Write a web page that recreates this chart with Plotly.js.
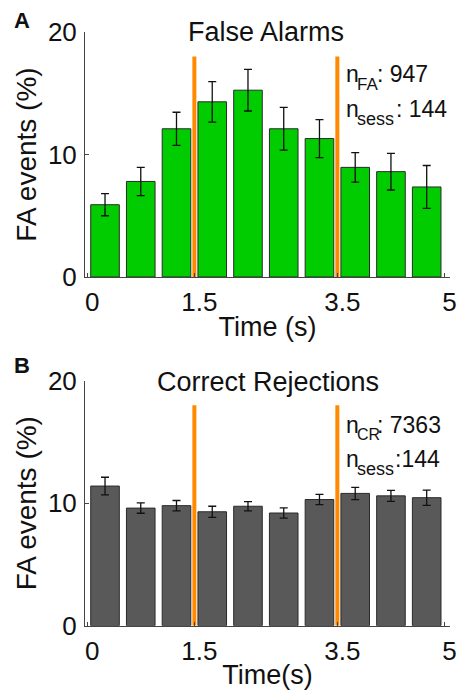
<!DOCTYPE html>
<html>
<head>
<meta charset="utf-8">
<script src="https://cdn.plot.ly/plotly-3.0.1.min.js"></script>
<style>html,body{margin:0;padding:0;background:#fff;}#chart{width:460px;height:694px;}</style>
</head>
<body>
<div id="chart"></div>
<script>
// Time bins (s), bar centres
const binCenters = [0.25, 0.75, 1.25, 1.75, 2.25, 2.75, 3.25, 3.75, 4.25, 4.75];
// Panel A: False alarms
const faMeans = [5.9, 7.8, 12.1, 14.3, 15.25, 12.1, 11.3, 8.95, 8.6, 7.35];
const faErr   = [0.9, 1.15, 1.35, 1.65, 1.7, 1.75, 1.55, 1.2, 1.5, 1.75];
// Panel B: Correct rejections
const crMeans = [11.4, 9.6, 9.8, 9.3, 9.75, 9.2, 10.3, 10.8, 10.6, 10.45];
const crErr   = [0.72, 0.42, 0.42, 0.45, 0.38, 0.42, 0.42, 0.5, 0.45, 0.62];
// Cue markers
const cueTimes = [1.5, 3.5];
const cueTop = 18;
// Ticks
const xTicks = [0, 1.5, 3.5, 5];
const xTickLabels = ['0', '1.5', '3.5', '5'];
const yTicks = [0, 10, 20];
// Texts
const titleA = 'False Alarms';
const titleB = 'Correct Rejections';
const countA = ['FA', ': 947'];
const sessA = ['sess', ': 144'];
const countB = ['CR', ': 7363'];
const sessB = ['sess', ':144'];

const FONT = 'Liberation Sans, Arial, Helvetica, sans-serif';
const ORANGE = '#FF8A00';
const TXT = '#111';

function barTrace(means, errs, color, xa, ya) {
  return {
    type: 'bar', x: binCenters, y: means, width: 0.4,
    xaxis: xa, yaxis: ya,
    marker: {color: color, line: {color: '#2a2a2a', width: 1}},
    error_y: {type: 'data', array: errs, visible: true, color: '#111', thickness: 1.3, width: 4},
    hoverinfo: 'skip', showlegend: false
  };
}
function cueTraces(xa, ya) {
  return cueTimes.map(t => ({
    type: 'scatter', mode: 'lines', x: [t, t], y: [0, cueTop],
    xaxis: xa, yaxis: ya,
    line: {color: ORANGE, width: 4}, hoverinfo: 'skip', showlegend: false
  }));
}

const data = [
  barTrace(faMeans, faErr, '#00CC00', 'x', 'y'),
  ...cueTraces('x', 'y'),
  barTrace(crMeans, crErr, '#595959', 'x2', 'y2'),
  ...cueTraces('x2', 'y2')
];

function xAxis(anchor, titleText) {
  return {
    anchor: anchor, domain: [85/460, 450/460], range: [-0.03, 5.076],
    tickvals: xTicks, ticktext: xTickLabels,
    ticks: 'inside', ticklen: 4, tickcolor: '#444', tickwidth: 1,
    showline: true, linecolor: '#444', linewidth: 1,
    showgrid: false, zeroline: false, fixedrange: true,
    tickfont: {family: FONT, size: 26, color: TXT},
    ticklabelstandoff: 2, ticklabelshift: 5,
    title: {text: titleText, font: {family: FONT, size: 27, color: TXT}, standoff: 0},
    automargin: false
  };
}
function yAxis(domain, anchor) {
  return {
    anchor: anchor, domain: domain, range: [0, 20],
    tickvals: yTicks,
    ticks: 'inside', ticklen: 4, tickcolor: '#444', tickwidth: 1,
    showline: true, linecolor: '#444', linewidth: 1,
    showgrid: false, zeroline: false, fixedrange: true,
    tickfont: {family: FONT, size: 26, color: TXT},
    ticklabelstandoff: 2,
    title: {text: 'FA events (%)', font: {family: FONT, size: 28, color: TXT}, standoff: 3},
    automargin: false
  };
}

function ann(text, xPx, yPx, size, anchor) {
  return {text: text, xref: 'paper', yref: 'paper', x: xPx/460, y: 1 - yPx/694,
          xanchor: anchor || 'left', yanchor: 'middle', showarrow: false,
          font: {family: FONT, size: size, color: TXT}};
}
// "n" with a subscript, followed by the count
function nLabel(parts, yMain, restX, subSize) {
  return [
    ann('n', 344, yMain, 23),
    ann(parts[0], 355, yMain + 10, subSize),
    ann(parts[1], restX, yMain, 23)
  ];
}

const layout = {
  width: 460, height: 694,
  margin: {l: 0, r: 0, t: 0, b: 0},
  paper_bgcolor: '#fff', plot_bgcolor: 'rgba(0,0,0,0)',
  barmode: 'overlay',
  xaxis: xAxis('y', 'Time (s)'),
  yaxis: yAxis([1 - 277/694, 1 - 32/694], 'x'),
  xaxis2: xAxis('y2', 'Time(s)'),
  yaxis2: yAxis([1 - 625.7/694, 1 - 380.7/694], 'x2'),
  annotations: [
    ann('<b>A</b>', 12, 20.5, 22),
    ann('<b>B</b>', 12, 365.5, 22),
    ann(titleA, 266, 32.5, 27, 'center'),
    ann(titleB, 268, 381.5, 27, 'center'),
    ...nLabel(countA, 74, 375, 17),
    ...nLabel(sessA, 109, 394, 18),
    ...nLabel(countB, 424.5, 375, 16),
    ...nLabel(sessB, 459, 393, 18)
  ]
};

Plotly.newPlot('chart', data, layout, {staticPlot: true, displayModeBar: false});
</script>
</body>
</html>
